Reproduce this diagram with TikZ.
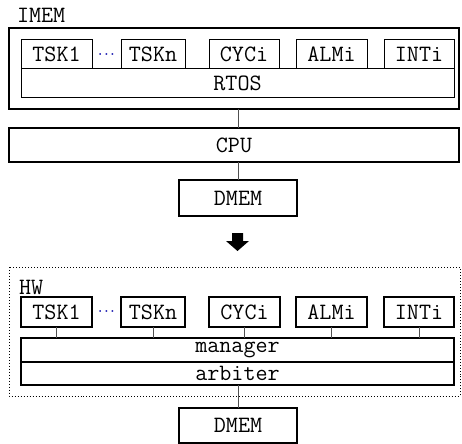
\documentclass[tikz,border=0pt]{standalone}
\usepackage{fontspec}
\usetikzlibrary{calc}
\definecolor{dotblue}{RGB}{10,10,170}
\definecolor{linegray}{RGB}{80,80,80}
\begin{document}
\begin{tikzpicture}[x=1bp,y=-1bp,
  every node/.style={inner sep=0pt,outer sep=0pt,font=\ttfamily\fontsize{23.5}{24}\selectfont},
  thinbox/.style={draw,line width=1bp,rectangle},
  thickbox/.style={draw,line width=2bp,rectangle},
  conn/.style={draw=linegray,line width=1bp},
  dotsstyle/.style={text=dotblue,font=\fontsize{12}{12}\selectfont\boldmath},
  lbl/.style={anchor=west}]
\useasboundingbox (0,0) rectangle (462,444);
% helper: box from corners
\newcommand{\bx}[7]{\node[#1,minimum width={(#5-#3)*1bp},minimum height={(#6-#4)*1bp}] (#2) at ({(#3+#5)/2},{(#4+#6)/2}) {#7};}
% ----- upper part
\node[lbl] (imemlbl) at (17,15) {IMEM};
\bx{thickbox}{imem}{9}{28}{459}{109}{}
\bx{thinbox}{rtos}{21}{69}{454}{98}{RTOS}
\bx{thinbox}{tskau}{21}{40}{92}{69}{TSK1}
\bx{thinbox}{tsknu}{121}{40}{185}{69}{TSKn}
\bx{thinbox}{cyciu}{209}{40}{279}{69}{CYCi}
\bx{thinbox}{almiu}{296}{40}{367}{69}{ALMi}
\bx{thinbox}{intiu}{384}{40}{454}{69}{INTi}
\node[dotsstyle] (dotsu) at (106.5,55) {$\cdots$};
\bx{thickbox}{cpu}{9}{128}{459}{162}{CPU}
\bx{thickbox}{dmemu}{179}{180}{297}{216}{DMEM}
\draw[conn] (imem.south -| dmemu.north) -- (cpu.north -| dmemu.north);
\draw[conn] (cpu.south -| dmemu.north) -- (dmemu.north);
% ----- arrow
\fill (232,233) -- (243,233) -- (243,241) -- (249,241) -- (237.5,251) -- (226,241) -- (232,241) -- cycle;
% ----- lower part
\draw[line width=1bp,dotted] (9,267) rectangle (460,396);
\node[lbl] (hwlbl) at (19,287) {HW};
\bx{thickbox}{tska}{21}{297}{92}{327}{TSK1}
\bx{thickbox}{tskn}{121}{297}{185}{327}{TSKn}
\bx{thickbox}{cyci}{209}{297}{280}{327}{CYCi}
\bx{thickbox}{almi}{296}{297}{367}{327}{ALMi}
\bx{thickbox}{inti}{384}{297}{454}{327}{INTi}
\node[dotsstyle] (dotsl) at (106.5,312) {$\cdots$};
\bx{thickbox}{manager}{21}{338}{454}{362}{manager}
\bx{thickbox}{arbiter}{21}{362}{454}{385}{arbiter}
\bx{thickbox}{dmem}{179}{408}{297}{443}{DMEM}
\foreach \t in {tska,tskn,cyci,almi,inti}
  \draw[conn] (\t.south) -- (\t.south |- manager.north);
\draw[conn] (arbiter.south -| dmem.north) -- (dmem.north);
\end{tikzpicture}
\end{document}
